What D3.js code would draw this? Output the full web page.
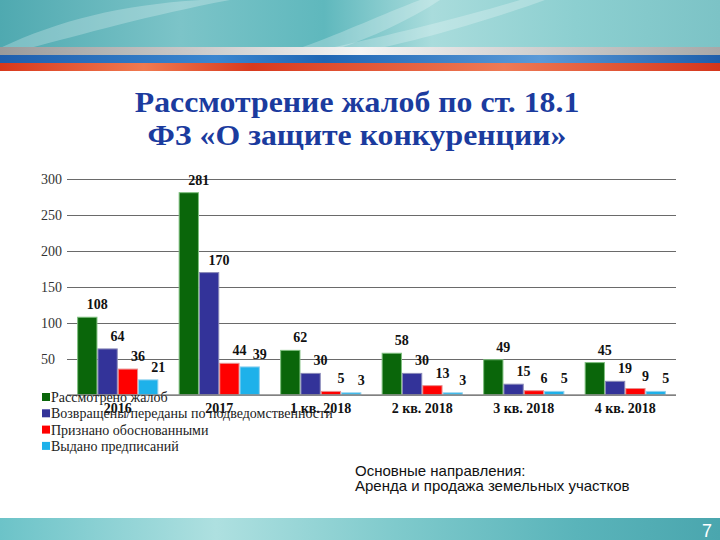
<!DOCTYPE html>
<html>
<head>
<meta charset="utf-8">
<script src="https://cdn.jsdelivr.net/npm/d3@7"></script>
<style>
  html, body { margin: 0; padding: 0; background: #fff; }
  svg { display: block; }
  .serif { font-family: "Liberation Serif", "Times New Roman", "DejaVu Serif", serif; }
  .sans { font-family: "Liberation Sans", Arial, "DejaVu Sans", sans-serif; }
</style>
</head>
<body>
<svg id="chart" width="720" height="540"></svg>
<script>
// ---- data ----
const categories = ["2016", "2017", "1 кв. 2018", "2 кв. 2018", "3 кв. 2018", "4 кв. 2018"];
const seriesNames = [
  "Рассмотрено жалоб",
  "Возвращены/переданы по подведомственности",
  "Признано обоснованными",
  "Выдано предписаний"
];
const reviewed  = [108, 281, 62, 58, 49, 45];
const returned  = [64, 170, 30, 30, 15, 19];
const justified = [36, 44, 5, 13, 6, 9];
const orders    = [21, 39, 3, 3, 5, 5];
const yTicks = [50, 100, 150, 200, 250, 300];
const titleLines = ["Рассмотрение жалоб по ст. 18.1", "ФЗ «О защите конкуренции»"];
const noteLines = ["Основные направления:", "Аренда и продажа земельных участков"];
const pageNumber = "7";

const seriesValues = [reviewed, returned, justified, orders];
const colors = ["#0a660a", "#333399", "#ff0000", "#1eb1ea"];
const strokes = ["#7fbf7f", "#8a8ab8", "#e89090", "#8fd0ee"];

const svg = d3.select("#chart");
const defs = svg.append("defs");

// ---- header background ----
const hg = defs.append("linearGradient").attr("id", "hdr").attr("x1", 0).attr("x2", 1).attr("y1", 0).attr("y2", 0);
[[0, "#4fa9b0"], [0.25, "#7cc4c8"], [0.45, "#5fb8bd"], [0.6, "#a9dcdc"], [0.8, "#8ccfd0"], [1, "#7cc3c6"]]
  .forEach(([o, c]) => hg.append("stop").attr("offset", o).attr("stop-color", c));
svg.append("rect").attr("x", 0).attr("y", 0).attr("width", 720).attr("height", 48).attr("fill", "url(#hdr)");
const streaks = [
  "M0,48 C60,20 120,5 200,0 L230,0 C150,15 80,35 30,48 Z",
  "M300,48 C350,30 380,15 420,0 L440,0 C410,20 370,38 340,48 Z",
  "M330,48 C390,35 470,15 520,0 L545,0 C490,20 420,40 380,48 Z"
];
streaks.forEach(p => svg.append("path").attr("d", p).attr("fill", "#ffffff").attr("opacity", 0.25));

const sg = defs.append("linearGradient").attr("id", "silver").attr("x1", 0).attr("x2", 1);
[[0, "#9a9a9a"], [0.35, "#d8d8d8"], [0.5, "#f4f4f4"], [0.75, "#cfcfcf"], [1, "#a8a8a8"]]
  .forEach(([o, c]) => sg.append("stop").attr("offset", o).attr("stop-color", c));
const bg = defs.append("linearGradient").attr("id", "blueS").attr("x1", 0).attr("x2", 1);
[[0, "#1f5fae"], [0.3, "#3a86d0"], [0.45, "#1f66b4"], [0.75, "#5a9ad8"], [1, "#1d5eab"]]
  .forEach(([o, c]) => bg.append("stop").attr("offset", o).attr("stop-color", c));
const rg = defs.append("linearGradient").attr("id", "redS").attr("x1", 0).attr("x2", 1);
[[0, "#d8381c"], [0.2, "#f07a50"], [0.35, "#d83a1e"], [0.7, "#ee7a55"], [1, "#d4361c"]]
  .forEach(([o, c]) => rg.append("stop").attr("offset", o).attr("stop-color", c));
svg.append("rect").attr("x", 0).attr("y", 47).attr("width", 720).attr("height", 8).attr("fill", "url(#silver)");
svg.append("rect").attr("x", 0).attr("y", 55).attr("width", 720).attr("height", 8).attr("fill", "url(#blueS)");
svg.append("rect").attr("x", 0).attr("y", 63).attr("width", 720).attr("height", 8).attr("fill", "url(#redS)");

// ---- footer ----
const fg = defs.append("linearGradient").attr("id", "ftr").attr("x1", 0).attr("x2", 1);
[[0, "#6cc3c8"], [0.3, "#aee0e0"], [0.55, "#7fcacc"], [0.8, "#5ab4ba"], [1, "#4aa6ae"]]
  .forEach(([o, c]) => fg.append("stop").attr("offset", o).attr("stop-color", c));
svg.append("rect").attr("x", 0).attr("y", 518).attr("width", 720).attr("height", 22).attr("fill", "url(#ftr)");
svg.append("text").attr("class", "sans").attr("x", 712).attr("y", 537).attr("text-anchor", "end")
  .attr("font-size", 18).attr("fill", "#ffffff")
  .text(pageNumber);

// ---- title ----
svg.append("g").attr("transform", "translate(357,0) scale(1.06,1)")
  .selectAll("text").data(titleLines).join("text")
  .attr("class", "serif")
  .attr("x", 0).attr("y", (d, i) => 112 + i * 33)
  .attr("text-anchor", "middle")
  .attr("font-weight", "bold").attr("font-size", 30).attr("fill", "#1b3b9e")
  .text(d => d);

// ---- chart ----
const x0 = d3.scaleBand().domain(categories).range([67, 676]).paddingInner(0.2).paddingOuter(0.1);
const x1 = d3.scaleBand().domain(d3.range(seriesNames.length)).range([0, x0.bandwidth()]);
const y = d3.scaleLinear().domain([0, 300]).range([395, 179]);

const yAxis = d3.axisLeft(y).tickValues([0].concat(yTicks)).tickSize(-(676 - 67)).tickFormat(d => d === 0 ? "" : d);
const gy = svg.append("g").attr("transform", "translate(67,0)").call(yAxis);
gy.select(".domain").remove();
gy.selectAll(".tick line").attr("stroke", "#6a6a6a").attr("stroke-width", 1);
gy.selectAll(".tick text").attr("class", "serif").attr("x", -26).attr("text-anchor", "start")
  .attr("font-size", 14).attr("fill", "#333");

// bars
const groups = svg.append("g").selectAll("g").data(categories).join("g")
  .attr("transform", d => `translate(${x0(d)},0)`);
groups.selectAll("rect")
  .data((c, ci) => seriesValues.map((s, si) => ({ si, v: s[ci] })))
  .join("rect")
  .attr("x", d => x1(d.si) + 0.5)
  .attr("width", x1.bandwidth() - 1)
  .attr("y", d => y(d.v))
  .attr("height", d => y(0) - y(d.v))
  .attr("fill", d => colors[d.si])
  .attr("stroke", d => strokes[d.si]).attr("stroke-width", 1);

svg.append("line").attr("x1", 67).attr("x2", 676).attr("y1", y(0)).attr("y2", y(0))
  .attr("stroke", "#8a8a8a").attr("stroke-width", 1.5);

// data labels
groups.selectAll("text")
  .data((c, ci) => seriesValues.map((s, si) => ({ si, v: s[ci] })))
  .join("text")
  .attr("class", "serif")
  .attr("x", d => x1(d.si) + x1.bandwidth() / 2 + 10)
  .attr("y", d => y(d.v) - 8)
  .attr("text-anchor", "middle")
  .attr("font-weight", "bold").attr("font-size", 14).attr("fill", "#111")
  .text(d => d.v);

// x category labels
const xAxis = d3.axisBottom(x0).tickSize(0).tickPadding(0);
const gx = svg.append("g").attr("transform", `translate(0,${y(0)})`).call(xAxis);
gx.select(".domain").remove();
gx.selectAll(".tick text").attr("class", "serif").attr("dy", 0).attr("y", 18)
  .attr("font-weight", "bold").attr("font-size", 14).attr("fill", "#111");

// legend
const legend = svg.append("g").selectAll("g").data(seriesNames).join("g")
  .attr("transform", (d, i) => `translate(42,${397 + i * 16.3})`);
legend.append("rect").attr("x", 0).attr("y", -4).attr("width", 8).attr("height", 8)
  .attr("fill", (d, i) => colors[i]);
legend.append("text").attr("class", "serif").attr("x", 9).attr("y", 5)
  .attr("font-size", 14).attr("fill", "#222")
  .text(d => d);

// note text
svg.append("g").selectAll("text").data(noteLines).join("text")
  .attr("class", "sans")
  .attr("x", 355).attr("y", (d, i) => 476 + i * 14.5)
  .attr("font-size", 15).attr("fill", "#111")
  .text(d => d);
</script>
</body>
</html>
